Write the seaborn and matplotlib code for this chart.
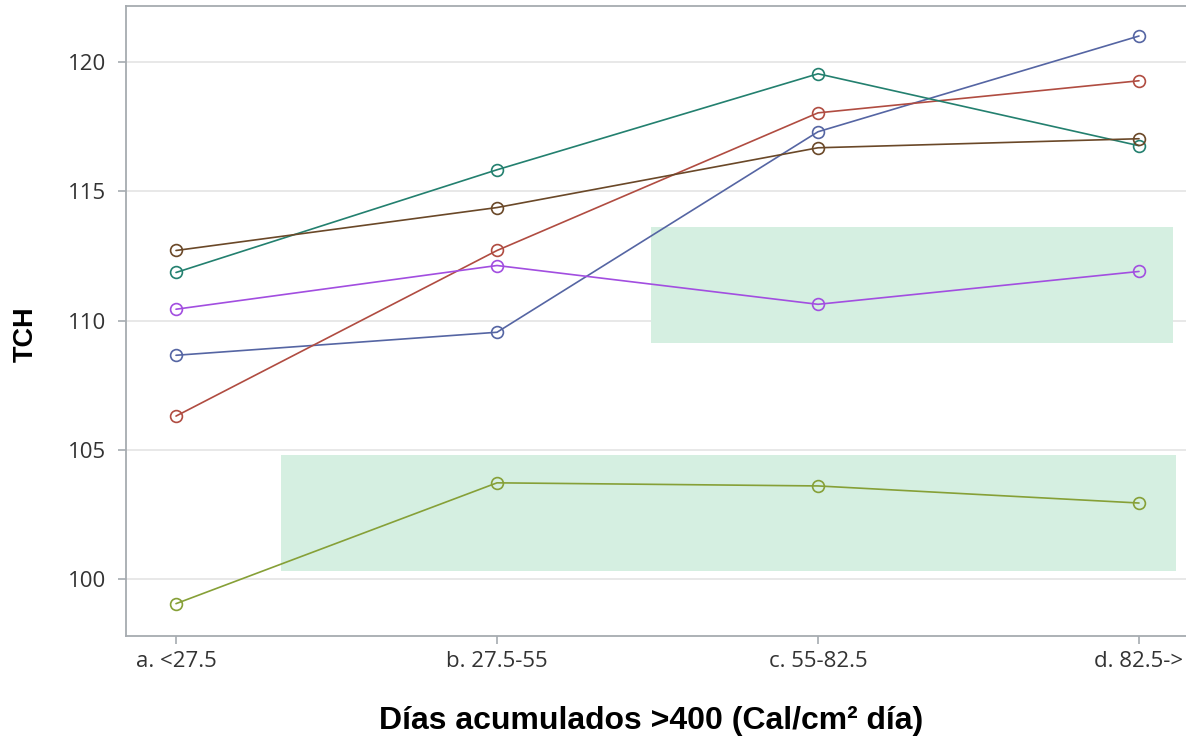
import matplotlib
matplotlib.use("Agg")
import matplotlib.pyplot as plt
from matplotlib.patches import Rectangle
import seaborn as sns
import pandas as pd

# Rainfall-exposure classes on the x axis
categories = ["a. <27.5", "b. 27.5-55", "c. 55-82.5", "d. 82.5->"]

# TCH per class for each group
s_blue = [108.66, 109.55, 117.30, 121.00]
s_red = [106.31, 112.71, 118.03, 119.27]
s_teal = [111.86, 115.83, 119.54, 116.76]
s_brown = [112.71, 114.37, 116.68, 117.03]
s_purple = [110.44, 112.13, 110.63, 111.90]
s_olive = [99.06, 103.73, 103.61, 102.95]

series_names = ["G1", "G2", "G3", "G4", "G5", "G6"]
series_values = [s_blue, s_red, s_teal, s_brown, s_purple, s_olive]
palette = ["#5565a3", "#b04c41", "#23806f", "#6a4828", "#a24ee0", "#86a037"]

# Highlighted regions: (x0, x1, y0, y1) in category / TCH units
highlights = [
    (1.480, 3.106, 109.12, 113.60),
    (0.327, 3.115, 100.33, 104.81),
]

y_ticks = [100, 105, 110, 115, 120]

rows = []
for name, vals in zip(series_names, series_values):
    for cat, v in zip(categories, vals):
        rows.append({"clase": cat, "TCH": v, "grupo": name})
df = pd.DataFrame(rows)

sns.set_style("white")
plt.rcParams["font.family"] = ["Open Sans", "DejaVu Sans"]

fig = plt.figure(figsize=(11.86, 7.38), dpi=100)
ax = fig.add_axes([126 / 1186, 1 - 636 / 738, 1060 / 1186, 630 / 738])

sns.lineplot(
    data=df, x="clase", y="TCH", hue="grupo", palette=palette,
    marker="o", markersize=8.5, linewidth=1.2, legend=False, ax=ax,
    sort=False, zorder=3,
)
for line in ax.lines:
    line.set_markerfacecolor("none")
    line.set_markeredgecolor(line.get_color())
    line.set_markeredgewidth(1.2)

for x0, x1, y0, y1 in highlights:
    ax.add_patch(Rectangle((x0, y0), x1 - x0, y1 - y0, facecolor="#d5efe1",
                           edgecolor="none", zorder=1))

ax.set_xlim(-50 / 321, 3 + 47 / 321)
ax.set_ylim(97.81, 122.16)
ax.set_yticks(y_ticks)
ax.yaxis.grid(True, color="#e6e6e6", linewidth=1.3, zorder=0)
ax.xaxis.grid(False)
ax.set_axisbelow(True)

for side in ["left", "bottom", "top"]:
    ax.spines[side].set_visible(True)
    ax.spines[side].set_color("#a6abb0")
    ax.spines[side].set_linewidth(1.3)
ax.spines["right"].set_visible(False)

ax.tick_params(axis="both", which="major", direction="out", length=6,
               width=1.2, color="#a6abb0", labelsize=16, labelcolor="#333333",
               left=True, bottom=True, pad=5)
ax.tick_params(axis="y", pad=8)

ax.set_xlabel("Días acumulados >400 (Cal/cm² día)", fontsize=23,
              fontweight="bold", color="black",
              family=["Liberation Sans", "DejaVu Sans"])
ax.set_ylabel("TCH", fontsize=19.5, fontweight="bold", color="black",
              family=["Liberation Sans", "DejaVu Sans"])
ax.xaxis.set_label_coords(525 / 1060, -70 / 630)
ax.yaxis.set_label_coords(-87 / 1060, 302 / 630)

fig.savefig("out.png", dpi=100, facecolor="white")
